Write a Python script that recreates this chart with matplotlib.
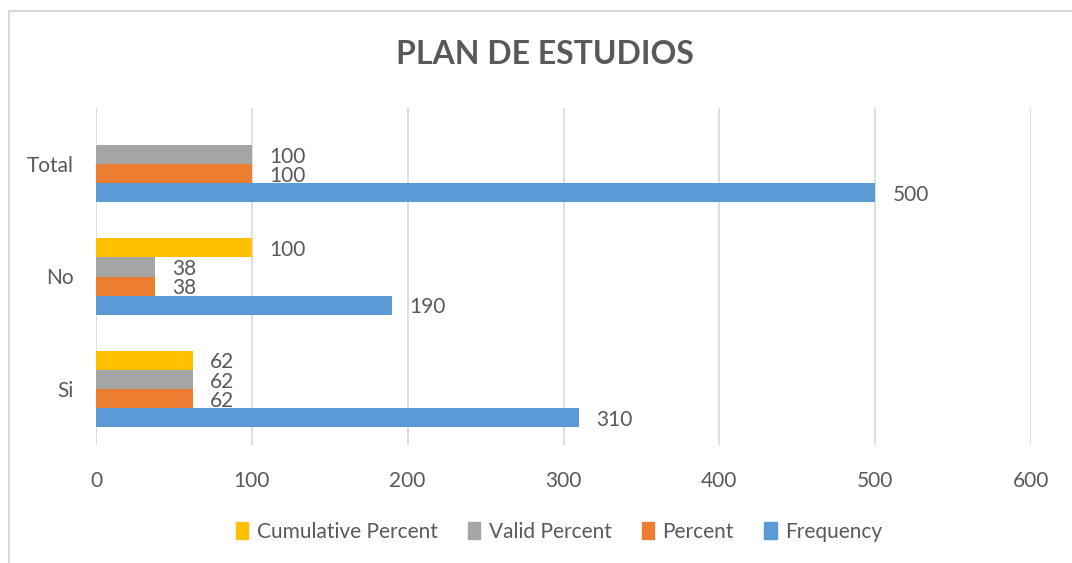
import numpy as np
import matplotlib.pyplot as plt
from matplotlib.patches import Rectangle, Patch

plt.rcParams['font.family'] = ['Lato', 'DejaVu Sans']

categories = ['Si', 'No', 'Total']
frequency = [310, 190, 500]
percent = [62, 38, 100]
valid_percent = [62, 38, 100]
cumulative_percent = [62, 100, np.nan]

series = [
  ('Frequency', frequency, '#5b9bd5'),
  ('Percent', percent, '#ed7d31'),
  ('Valid Percent', valid_percent, '#a5a5a5'),
  ('Cumulative Percent', cumulative_percent, '#ffc000'),
]

txt = '#595959'
W, H = 1072, 563
fig = plt.figure(figsize=(W/100, H/100), dpi=100)
ax = fig.add_axes([96/W, 1-445/H, (1031-96)/W, (445-108)/H])

fig.patches.append(Rectangle((9/W, -0.1), 1.2, 1-11/H+0.1, transform=fig.transFigure,
                             fill=False, edgecolor='#d9d9d9', linewidth=1.5))

y = np.arange(len(categories))
h = 0.17
for i, (name, vals, col) in enumerate(series):
  off = (i-1.5)*h
  bars = ax.barh(y+off, vals, height=h, color=col, edgecolor='none', zorder=3)
  for yy, v in zip(y+off, vals):
    if np.isnan(v):
      continue
    ax.text(v+11, yy-0.02, '%d' % v, va='center', ha='left', fontsize=15, color=txt)

ax.set_xlim(0, 600)
ax.set_ylim(-0.5, 2.5)
ax.set_xticks(np.arange(0, 601, 100))
ax.set_yticks(y)
ax.set_yticklabels(categories)
ax.tick_params(length=0, labelsize=15, colors=txt)
ax.tick_params(axis='x', pad=19)
ax.tick_params(axis='y', pad=16)
ax.grid(axis='x', color='#d9d9d9', linewidth=1.2, zorder=0)
for s in ax.spines.values():
  s.set_visible(False)

fig.text(545/W, 1-55/H, 'PLAN DE ESTUDIOS', ha='center', va='center',
         fontsize=23, fontweight='bold', color=txt)

handles = [Patch(color=c, label=n) for n, v, c in series[::-1]]
fig.legend(handles=handles, loc='center', bbox_to_anchor=(559/W, 1-532/H), ncol=4,
           frameon=False, fontsize=15, labelcolor=txt, handlelength=0.6, handleheight=0.9,
           handletextpad=0.4, columnspacing=1.45)

fig.savefig('out.png', dpi=100)
